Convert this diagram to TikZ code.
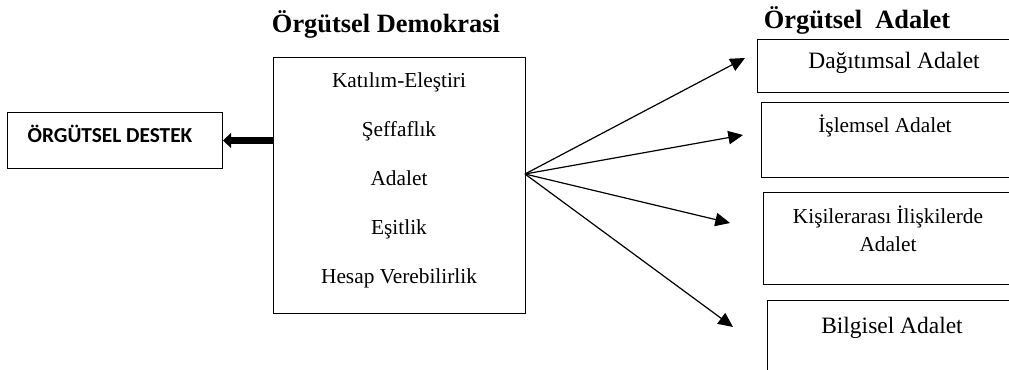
\documentclass[tikz,border=0pt]{standalone}
\usepackage{fontspec}
\setmainfont{Liberation Serif}
\newfontfamily\destekfont{Carlito}
\usetikzlibrary{arrows.meta,positioning}

\begin{document}
\begin{tikzpicture}[
        x=0.75pt, y=-0.75pt, % pixel grid of the reference
        box/.style={draw, line width=0.75pt, inner sep=0pt, anchor=north west},
        item/.style={font=\fontsize{16}{19}\selectfont, anchor=base, inner sep=0pt},
        bigitem/.style={font=\fontsize{17.6}{21}\selectfont, anchor=base, inner sep=0pt},
        heading/.style={font=\fontsize{19.8}{23}\selectfont\bfseries, anchor=base, inner sep=0pt},
        fan/.style={draw, line width=0.9pt, -{Triangle[length=11pt, width=10pt]}}
      ]
        \useasboundingbox (0,0) rectangle (1009,369);

        % Headings
        \node[heading] (t_demo) at (386,32) {Örgütsel Demokrasi};
        \node[heading] (t_adalet) at (857,28) {Örgütsel\ \ Adalet};

        % Left box
        \node[box, minimum width=161.25pt, minimum height=42pt] (destek) at (7,112) {};
        \node[anchor=base, inner sep=0pt, font=\destekfont\fontsize{16}{19}\selectfont\bfseries]
            (destek_t) at (110,142) {ÖRGÜTSEL DESTEK};

        % Central box with its items
        \node[box, minimum width=189pt, minimum height=192pt] (demo) at (273,57) {};
        \foreach \txt [count=\i] in {Katılım-Eleştiri, Şeffaflık, Adalet, Eşitlik, Hesap Verebilirlik}
            \node[item] (d_\i) at (399, 38+49*\i) {\txt};

        % Right boxes (they run past the right margin)
        \node[box, minimum width=300pt, minimum height=39.75pt] (r_1) at (757,39) {};
        \node[bigitem] (r_1t) at (894,68) {Dağıtımsal Adalet};
        \node[box, minimum width=300pt, minimum height=56.25pt] (r_2) at (761,102) {};
        \node[item] (r_2t) at (885,132) {İşlemsel Adalet};
        \node[box, minimum width=300pt, minimum height=69pt] (r_3) at (763,192) {};
        \node[item, align=center, font=\fontsize{16}{21}\selectfont] (r_3t) at (888,251) {Kişilerarası İlişkilerde\\Adalet};
        \node[box, minimum width=300pt, minimum height=60pt] (r_4) at (767,300) {};
        \node[bigitem] (r_4t) at (892,333) {Bilgisel Adalet};

        % Fan of arrows
        \coordinate (hub) at (525,174);
        \coordinate (tip_1) at (745,58);
        \coordinate (tip_2) at (743,135);
        \coordinate (tip_3) at (730,223);
        \coordinate (tip_4) at (733,327);
        \foreach \i in {1,...,4}
            \draw[fan] (hub) -- (tip_\i);

        % Thick arrow to the left box
        \draw[line width=5.25pt, -{Triangle[length=6pt, width=11pt]}] (destek.east -| demo.west) -- (destek.east);
    \end{tikzpicture}
\end{document}
